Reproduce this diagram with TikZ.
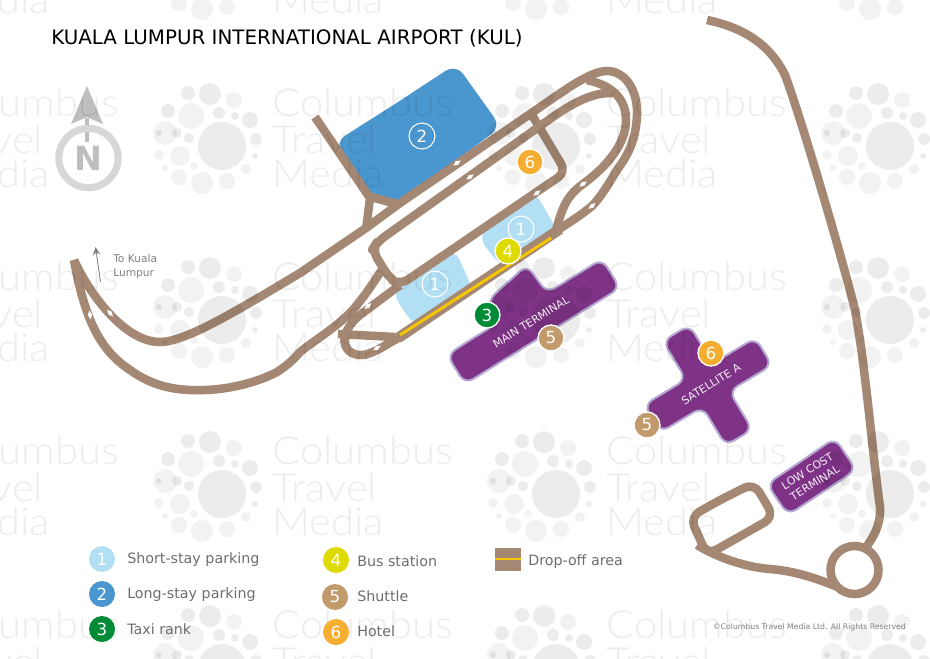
\documentclass[tikz,border=0pt]{standalone}
\usepackage{fontspec}
\setmainfont{DejaVu Sans}
\newfontfamily\wmfont[FakeStretch=1.08]{Lato Light}
\usetikzlibrary{arrows.meta,shapes.geometric}
\definecolor{road}{HTML}{A58873}
\definecolor{purp}{HTML}{7F3387}
\definecolor{purpedge}{HTML}{B4A7D2}
\definecolor{sky}{HTML}{B3DFF5}
\definecolor{blu}{HTML}{4A96CE}
\definecolor{grn}{HTML}{008C36}
\definecolor{yel}{HTML}{DFDB00}
\definecolor{shut}{HTML}{C29A6B}
\definecolor{org}{HTML}{F6AE30}
\definecolor{gold}{HTML}{F7C600}
\definecolor{txt}{HTML}{6D6E71}
\definecolor{northa}{HTML}{BCBEC0}
\definecolor{northc}{HTML}{D6D7D9}
\tikzset{
  x=0.75pt,y=-0.75pt,
  roadline/.style={draw=road,line width=6.4pt,line join=round,line cap=butt},
  term/.style={fill=purp,draw=purpedge,line width=1.5pt,rounded corners=7pt,line join=round},
  termtxt/.style={text=white!92!purp,font=\fontsize{8.2pt}{10pt}\selectfont,rotate=32,align=center},
  mapmark/.style={circle,minimum size=19.5pt,inner sep=0pt,text=white,font=\fontsize{12.5pt}{12.5pt}\selectfont},
  ringmark/.style={mapmark,draw=white,line width=.8pt},
  solidmark/.style={mapmark,draw=white,line width=1pt},
  legmark/.style={mapmark},
  legtxt/.style={anchor=west,text=txt,font=\fontsize{10.7pt}{12pt}\selectfont,inner sep=0pt},
  wmdark/.style={fill=black,fill opacity=.075},
  wmlite/.style={fill=black,fill opacity=.05},
  wmtxt/.style={anchor=base west,inner sep=0pt,text=black,text opacity=.075,font=\wmfont\fontsize{29pt}{29pt}\selectfont}
}
\newcommand\wmtile[2]{%
  \begin{scope}[shift={(#1,#2)}]
    \fill[wmdark] (0,0) circle[radius=24];
    \foreach \a/\b/\r in {-12/-52/11,-34/-53/7,-54/-35/7,-45/-13/5,-3/-33/6,13/-30/4,28/-26/8,34/-7/6,-33/-8/5,-63/-13/3,33/10/3}
      \fill[wmdark] (\a,\b) circle[radius=\r];
    \foreach \a/\b/\r in {-31/-30/13,-57/-13/12,12/-46/8,-63/9/5,-42/10/10,-28/20/4,-57/22/3,-43/31/8,-20/37/11,5/35/8,24/23/5}
      \fill[wmlite] (\a,\b) circle[radius=\r];
    \node[wmtxt] at (50,-30) {Columbus};
    \node[wmtxt] at (50,7) {Travel};
    \node[wmtxt] at (50,41) {Media};
  \end{scope}}
\newcommand\rdmark[3]{\fill[white,shift={(#1,#2)},rotate=#3] (-4.5,0)--(0,-2.2)--(4.5,0)--(0,2.2)--cycle;}
\begin{document}
\begin{tikzpicture}
\useasboundingbox (0,0) rectangle (930,658);
\clip (0,0) rectangle (930,658);
\fill[white] (0,0) rectangle (930,658);

% parking areas
\fill[blu,rounded corners=9pt] (395,104) -- (456,64) -- (501,127) -- (397,204) -- (372,198) -- (335,142) -- cycle;
\fill[sky,rounded corners=7pt] (535,192) -- (557,230) -- (510,268) -- (497,262) -- (479,238) -- (490,222) -- cycle;
\fill[sky,rounded corners=7pt] (455,250) -- (472,287) -- (416,324) -- (408,318) -- (393,293) -- (410,275) -- cycle;

% roads
\draw[roadline] (74,260) .. controls (90,295) and (125,342) .. (160,342) .. controls (185,342) and (235,312) .. (300,273) -- (366,228) -- (400,203) -- (533,112) .. controls (565,90) and (590,71) .. (607,71) .. controls (625,71) and (638,90) .. (637,115) .. controls (636,140) and (628,155) .. (617,170) .. controls (608,185) and (600,198) .. (592,206) .. controls (580,216) and (568,223) .. (555,232);
\draw[roadline,line width=8pt] (560,229) -- (398,338);
\draw[roadline] (400,285) -- (360,315) .. controls (345,327) and (338,345) .. (352,353) .. controls (365,360) and (380,348) .. (400,337);
\draw[roadline] (74,260) .. controls (85,320) and (100,350) .. (130,370) .. controls (155,388) and (180,391) .. (205,390) .. controls (235,389) and (262,380) .. (277,372) .. controls (288,365) and (295,358) .. (300,352) .. controls (315,340) and (335,328) .. (350,313) .. controls (362,300) and (372,285) .. (383,268);
\draw[roadline] (338,334) -- (395,337);
\draw[roadline,rounded corners=7pt] (532,115) -- (566,172) -- (400,285) -- (390,279) -- (372,250) -- (377,242) -- (533,131);
\draw[roadline] (533,131) .. controls (560,112) and (585,92) .. (613,93);
\draw[roadline] (587,80) .. controls (610,85) and (626,97) .. (626,120) .. controls (626,145) and (605,168) .. (583,184) .. controls (565,197) and (562,210) .. (556,230);
\draw[roadline] (315,117) -- (370,198) -- (366,230);
\draw[roadline] (368,196) -- (400,205);
% low cost loop and eastern road
\draw[roadline,rounded corners=8pt] (720,500) -- (754,483) -- (774,517) -- (707,555) -- (690,517) -- cycle;
\draw[roadline] (697,545) .. controls (725,562) and (755,568) .. (770,569) .. controls (795,571) and (815,578) .. (838,587);
\draw[roadline] (707,20) .. controls (745,28) and (770,45) .. (785,75) .. controls (800,115) and (840,250) .. (855,310) .. controls (866,370) and (872,450) .. (880,507) .. controls (881,525) and (873,538) .. (864,550);
\node[circle,draw=road,line width=6.4pt,minimum size=36pt,inner sep=0pt] (ring) at (854.5,570) {};
% road direction marks
\rdmark{457}{163}{35}\rdmark{470}{177}{35}\rdmark{537}{193}{35}\rdmark{583}{184}{35}\rdmark{592}{206}{40}
\rdmark{368}{306}{40}\rdmark{377}{348}{30}\rdmark{110}{313}{-50}\rdmark{90}{315}{-80}

% drop-off yellow line
\draw[gold,line width=2.2pt] (400,335) -- (551,238);

% terminals
\draw[term] (470,340) -- (495,325) -- (488,300) -- (527,265) -- (547,293) -- (602,259) -- (620,288) -- (465,384) -- (447,355) -- cycle;
\begin{scope}[shift={(708,385)},rotate=31]
\draw[term] (-40,-16) -- (-16,-16) -- (-16,-61) -- (15,-61) -- (15,-16) -- (65,-16) -- (65,16) -- (15,16) -- (15,61) -- (-16,61) -- (-16,16) -- (-65,16) -- (-65,-16) -- cycle;
\end{scope}
\draw[term] (800,462) -- (835,438) -- (856,470) -- (788,515) -- (767,484) -- cycle;

% north arrow
\fill[northa] (87,86) -- (103,124) -- (87,117) -- (71,124) -- cycle;
\draw[northa,line width=3.5pt] (87,118) -- (87,142);
\node[circle,draw=northc,line width=5.3pt,minimum size=44.5pt,inner sep=0pt,text=northa,font=\bfseries\fontsize{25pt}{25pt}\selectfont] (north) at (88.5,158) {N};

% to Kuala Lumpur
\coordinate (klfoot) at (100.5,282);
\coordinate (kltip) at (95.5,247);
\draw[-{Stealth[length=6pt,width=5.5pt]},draw=gray,fill=gray,line width=.6pt] (klfoot) -- (kltip);
\node[anchor=north west,text=gray,font=\fontsize{8pt}{10pt}\selectfont,align=left,inner sep=0pt] (kl) at (113,254.5) {To Kuala\\Lumpur};

% watermark
\foreach \yy in {-28,146,320,494,668}{
  \foreach \xx in {-112,222,556,890}{
    \wmtile{\xx}{\yy}
  }
}

% labels on terminals
\node[termtxt] (mt) at (531,322) {MAIN TERMINAL};
\node[termtxt] (sa) at (711,384) {SATELLITE A};
\node[termtxt,font=\fontsize{8.2pt}{10.5pt}\selectfont] (lc) at (811,477) {LOW COST\\TERMINAL};

% title
\node[anchor=base west,inner sep=0pt,font=\fontsize{14.9pt}{16pt}\selectfont] (title) at (51,44) {KUALA LUMPUR INTERNATIONAL AIRPORT (KUL)};

% map markers
\node[ringmark] (m2) at (422,136) {2};
\node[ringmark] (m1a) at (521,229) {1};
\node[ringmark] (m1b) at (435,284) {1};
\node[solidmark,fill=org] (m6a) at (530,162) {6};
\node[solidmark,fill=yel] (m4) at (508,251) {4};
\node[solidmark,fill=grn] (m3) at (487,315) {3};
\node[solidmark,fill=shut] (m5a) at (551,338) {5};
\node[solidmark,fill=org] (m6b) at (711,353) {6};
\node[solidmark,fill=shut] (m5b) at (647,425) {5};

% legend
\node[legmark,fill=sky] (l1) at (102,559) {1};
\node[legmark,fill=blu] (l2) at (102,594) {2};
\node[legmark,fill=grn] (l3) at (102,629) {3};
\node[legmark,fill=yel] (l4) at (336,560) {4};
\node[legmark,fill=shut] (l5) at (335,597) {5};
\node[legmark,fill=org] (l6) at (336,632) {6};
\node[legtxt] (t1) at (127,559.5) {Short-stay parking};
\node[legtxt] (t2) at (127,594.5) {Long-stay parking};
\node[legtxt] (t3) at (127,629.5) {Taxi rank};
\node[legtxt] (t4) at (357,561.5) {Bus station};
\node[legtxt] (t5) at (357,596.5) {Shuttle};
\node[legtxt] (t6) at (357,631.5) {Hotel};
\fill[road] (495,548) rectangle (521,571);
\draw[gold,line width=2.2pt] (495,559) -- (521,559);
\node[legtxt] (t7) at (528,561.5) {Drop-off area};
\node[anchor=base east,inner sep=0pt,text=gray,font=\fontsize{5.8pt}{7pt}\selectfont] (copy) at (906,629) {©Columbus Travel Media Ltd. All Rights Reserved};
\end{tikzpicture}
\end{document}
